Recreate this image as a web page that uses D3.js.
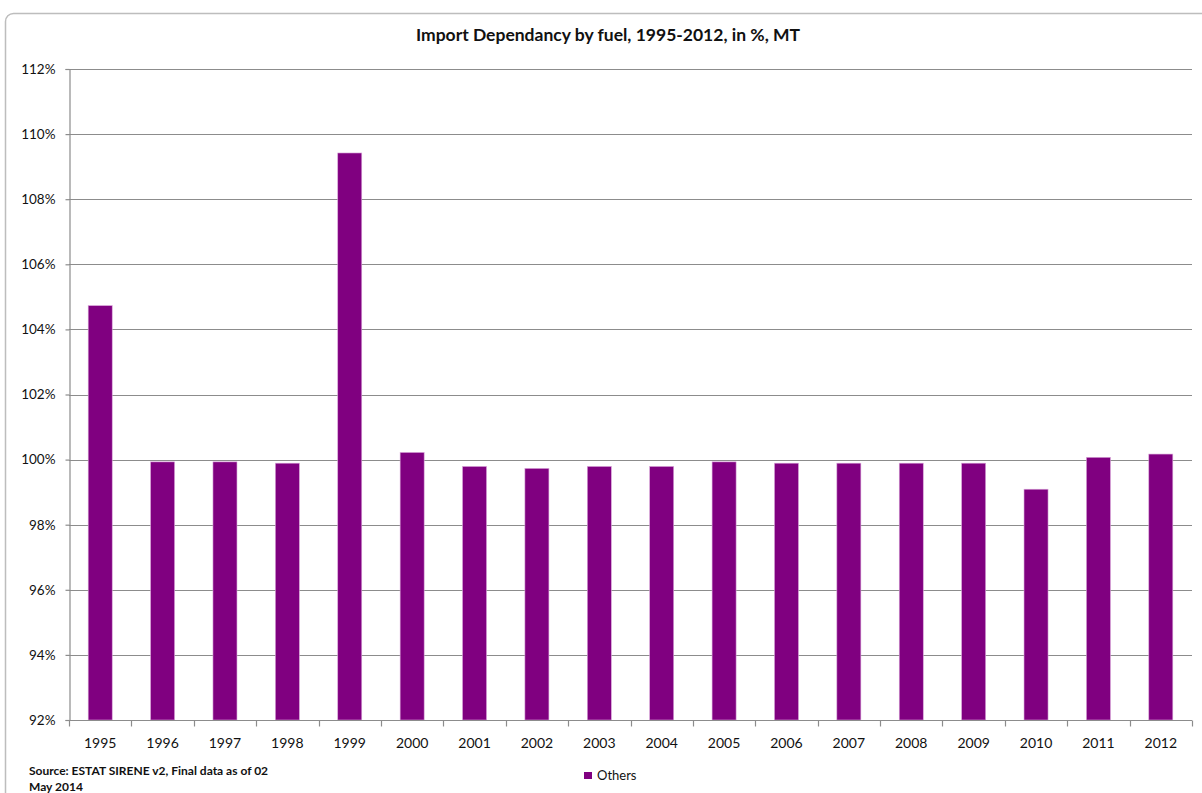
<!DOCTYPE html>
<html>
<head>
<meta charset="utf-8">
<script src="https://cdn.jsdelivr.net/npm/d3@7"></script>
<style>
  html, body { margin: 0; padding: 0; background: #fff; }
  svg { display: block; }
  text { font-family: Lato, "Open Sans", "Liberation Sans", sans-serif; fill: #111; }
</style>
</head>
<body>
<svg id="chart" width="1202" height="793"></svg>
<script>
// Import dependency, "Others" fuel, 1995-2012 (share, %)
const years = ["1995","1996","1997","1998","1999","2000","2001","2002","2003",
               "2004","2005","2006","2007","2008","2009","2010","2011","2012"];
const others = [104.73, 99.93, 99.93, 99.89, 109.42, 100.22, 99.79, 99.73, 99.79,
                99.79, 99.93, 99.89, 99.89, 99.89, 99.89, 99.09, 100.07, 100.17];
const yTicks = [92, 94, 96, 98, 100, 102, 104, 106, 108, 110, 112];

const svg = d3.select("#chart");
const m = { left: 69, right: 1192, top: 69, bottom: 720 };

// outer chart frame
svg.append("rect")
  .attr("x", 5.5).attr("y", 13.5)
  .attr("width", 1210).attr("height", 800)
  .attr("rx", 8)
  .attr("fill", "#fff").attr("stroke", "#bdbdbd").attr("stroke-width", 1.5);

const x = d3.scaleBand().domain(years).range([m.left, m.right])
  .paddingInner(0.615).paddingOuter(0.3075);
const xOuter = d3.scaleBand().domain(years).range([m.left, m.right]);
const y = d3.scaleLinear().domain([92, 112]).range([m.bottom, m.top]);

// horizontal gridlines
svg.append("g")
  .selectAll("line").data(yTicks.filter(d => d !== 92)).join("line")
  .attr("x1", m.left).attr("x2", m.right)
  .attr("y1", d => Math.round(y(d)) + 0.5).attr("y2", d => Math.round(y(d)) + 0.5)
  .attr("stroke", "#8c8c8c").attr("stroke-width", 1.2);

// bars
svg.append("g")
  .selectAll("rect").data(years.map((yr, i) => ({ yr, v: others[i] }))).join("rect")
  .attr("x", d => x(d.yr))
  .attr("width", x.bandwidth())
  .attr("y", d => y(d.v))
  .attr("height", d => y(92) - y(d.v))
  .attr("fill", "#800080")
  .attr("stroke", "#d9a6d9").attr("stroke-width", 0.6);

// y axis
const yAxis = svg.append("g")
  .attr("transform", `translate(${m.left + 0.5},0)`)
  .call(d3.axisLeft(y).tickValues(yTicks).tickSize(4).tickPadding(10)
        .tickFormat(d => d + "%"));
yAxis.select(".domain").attr("stroke", "#8c8c8c").attr("stroke-width", 1.2);
yAxis.selectAll(".tick line").attr("stroke", "#8c8c8c").attr("stroke-width", 1.2);
yAxis.selectAll(".tick text").attr("font-size", 13.5).attr("fill", "#111")
  .style("font-family", "Lato, 'Open Sans', sans-serif");

// x axis with ticks between categories
const xAxisG = svg.append("g").attr("transform", `translate(0,${m.bottom + 0.5})`);
xAxisG.append("line")
  .attr("x1", m.left).attr("x2", m.right)
  .attr("stroke", "#8c8c8c").attr("stroke-width", 1.2);
xAxisG.selectAll("line.tk").data(years.concat(["end"])).join("line")
  .attr("class", "tk")
  .attr("x1", (d, i) => Math.round(m.left + i * xOuter.step()) + 0.5)
  .attr("x2", (d, i) => Math.round(m.left + i * xOuter.step()) + 0.5)
  .attr("y1", 0).attr("y2", 6)
  .attr("stroke", "#8c8c8c").attr("stroke-width", 1.2);
xAxisG.selectAll("text").data(years).join("text")
  .attr("x", d => xOuter(d) + xOuter.bandwidth() / 2)
  .attr("y", 27)
  .attr("text-anchor", "middle")
  .attr("font-size", 14)
  .text(d => d);

// title
svg.append("text")
  .attr("x", 608).attr("y", 41)
  .attr("text-anchor", "middle")
  .attr("font-size", 17.5).attr("font-weight", "bold")
  .text("Import Dependancy by fuel, 1995-2012, in %, MT");

// source note
svg.append("text").attr("x", 29).attr("y", 775)
  .attr("font-size", 12).attr("font-weight", "bold")
  .text("Source: ESTAT SIRENE v2, Final data as of 02");
svg.append("text").attr("x", 29).attr("y", 791)
  .attr("font-size", 12).attr("font-weight", "bold")
  .text("May 2014");

// legend
const lg = svg.append("g").attr("transform", "translate(584,772)");
lg.append("rect").attr("width", 8).attr("height", 7).attr("fill", "#800080");
lg.append("text").attr("x", 13).attr("y", 8).attr("font-size", 13).text("Others");
</script>
</body>
</html>
